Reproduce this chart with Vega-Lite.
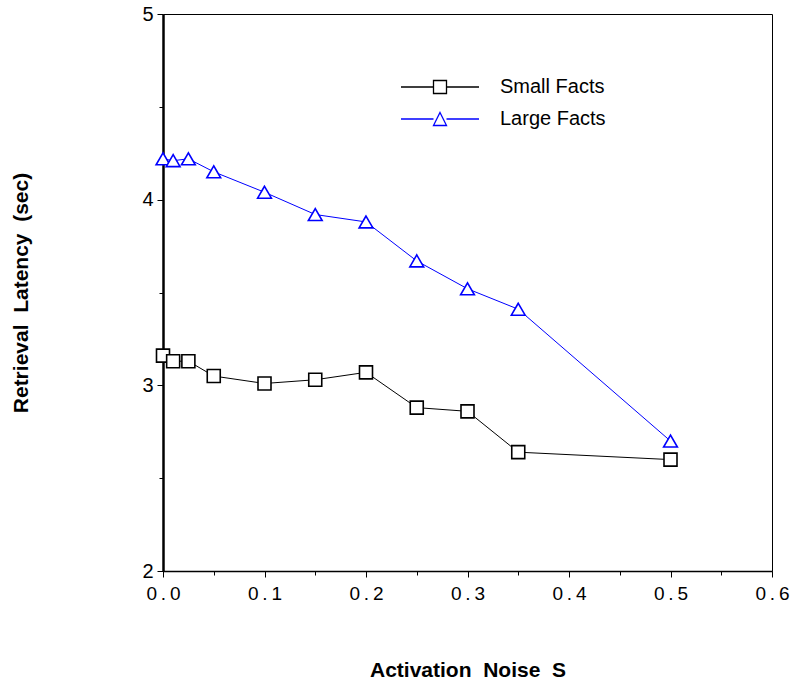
{
  "$schema": "https://vega.github.io/schema/vega-lite/v6.json",
  "width": 609,
  "height": 557,
  "autosize": {"type": "none"},
  "padding": {"left": 163, "top": 14, "right": 21, "bottom": 114},
  "background": "white",
  "config": {
    "view": {"stroke": "black", "strokeWidth": 1},
    "font": "Liberation Sans",
    "axis": {"grid": false, "domainColor": "black", "tickColor": "black", "labelColor": "black", "titleColor": "black", "labelFont": "Liberation Sans", "titleFont": "Liberation Sans"}
  },
  "data": {
    "values": [
      {"s": 0.0, "lat": 3.16, "series": "Small Facts"},
      {"s": 0.01, "lat": 3.13, "series": "Small Facts"},
      {"s": 0.025, "lat": 3.13, "series": "Small Facts"},
      {"s": 0.05, "lat": 3.05, "series": "Small Facts"},
      {"s": 0.1, "lat": 3.01, "series": "Small Facts"},
      {"s": 0.15, "lat": 3.03, "series": "Small Facts"},
      {"s": 0.2, "lat": 3.07, "series": "Small Facts"},
      {"s": 0.25, "lat": 2.88, "series": "Small Facts"},
      {"s": 0.3, "lat": 2.86, "series": "Small Facts"},
      {"s": 0.35, "lat": 2.64, "series": "Small Facts"},
      {"s": 0.5, "lat": 2.6, "series": "Small Facts"},
      {"s": 0.0, "lat": 4.22, "series": "Large Facts"},
      {"s": 0.01, "lat": 4.21, "series": "Large Facts"},
      {"s": 0.025, "lat": 4.22, "series": "Large Facts"},
      {"s": 0.05, "lat": 4.15, "series": "Large Facts"},
      {"s": 0.1, "lat": 4.04, "series": "Large Facts"},
      {"s": 0.15, "lat": 3.92, "series": "Large Facts"},
      {"s": 0.2, "lat": 3.88, "series": "Large Facts"},
      {"s": 0.25, "lat": 3.67, "series": "Large Facts"},
      {"s": 0.3, "lat": 3.52, "series": "Large Facts"},
      {"s": 0.35, "lat": 3.41, "series": "Large Facts"},
      {"s": 0.5, "lat": 2.7, "series": "Large Facts"}
    ]
  },
  "encoding": {
    "x": {
      "field": "s", "type": "quantitative",
      "scale": {"domain": [0, 0.6], "nice": false, "zero": false},
      "axis": {
        "title": "Activation\u00a0 Noise\u00a0 S",
        "titleFontSize": 21, "titleFontWeight": "bold", "titlePadding": 56,
        "values": [0, 0.05, 0.1, 0.15, 0.2, 0.25, 0.3, 0.35, 0.4, 0.45, 0.5, 0.55, 0.6],
        "labelExpr": "(round(datum.value*100) % 10 == 0) ? replace(format(datum.value, '.1f'), '.', '\u2009.\u2009') : ''",
        "labelFontSize": 19, "labelPadding": 7, "labelFlush": false,
        "tickSize": {"condition": {"test": "round(datum.value*100) % 10 == 0", "value": 6}, "value": 4},
        "domainWidth": 1.5
      }
    },
    "y": {
      "field": "lat", "type": "quantitative",
      "scale": {"domain": [2, 5], "nice": false, "zero": false},
      "axis": {
        "title": "Retrieval\u00a0 Latency\u00a0 (sec)",
        "titleFontSize": 21, "titleFontWeight": "bold", "titlePadding": 110,
        "values": [2, 2.5, 3, 3.5, 4, 4.5, 5],
        "labelExpr": "(datum.value % 1 == 0) ? format(datum.value, 'd') : ''",
        "labelFontSize": 20, "labelPadding": 4, "labelFlush": false,
        "tickSize": {"condition": {"test": "datum.value % 1 == 0", "value": 6}, "value": 4},
        "domainWidth": 2.5
      }
    },
    "color": {
      "field": "series", "type": "nominal",
      "scale": {"domain": ["Small Facts", "Large Facts"], "range": ["black", "#0000ff"]},
      "legend": {
        "title": null, "orient": "none", "legendX": 267, "legendY": 63, "padding": 0,
        "symbolSize": 169, "symbolStrokeWidth": 1.3, "symbolFillColor": "white",
        "labelFont": "Liberation Sans", "labelFontSize": 20, "labelColor": "black", "labelOffset": 50,
        "rowPadding": 12,
        "labelExpr": "datum.value == 'Large Facts' ? '\u2002Large Facts' : datum.value",
        "encode": {
          "symbols": {
            "update": {
              "shape": {"signal": "datum.value == 'Small Facts' ? 'M-6,0H-1M1,0H6M-1,-1H1V1H-1Z' : 'M-6,0H-1M1,0H6M0,-1L1,1H-1Z'"},
              "fill": {"value": "white"},
              "fillOpacity": {"value": 1},
              "opacity": {"value": 1}
            }
          }
        }
      }
    }
  },
  "layer": [
    {
      "mark": {"type": "line", "strokeWidth": 1}
    },
    {
      "transform": [{"filter": "datum.series == 'Small Facts'"}],
      "mark": {"type": "point", "shape": "square", "filled": false, "fill": "white", "fillOpacity": 1, "opacity": 1, "size": 169, "strokeWidth": 1.6}
    },
    {
      "transform": [{"filter": "datum.series == 'Large Facts'"}],
      "mark": {"type": "point", "shape": "triangle-up", "filled": false, "fill": "white", "fillOpacity": 1, "opacity": 1, "size": 190, "strokeWidth": 1.6}
    }
  ]
}
